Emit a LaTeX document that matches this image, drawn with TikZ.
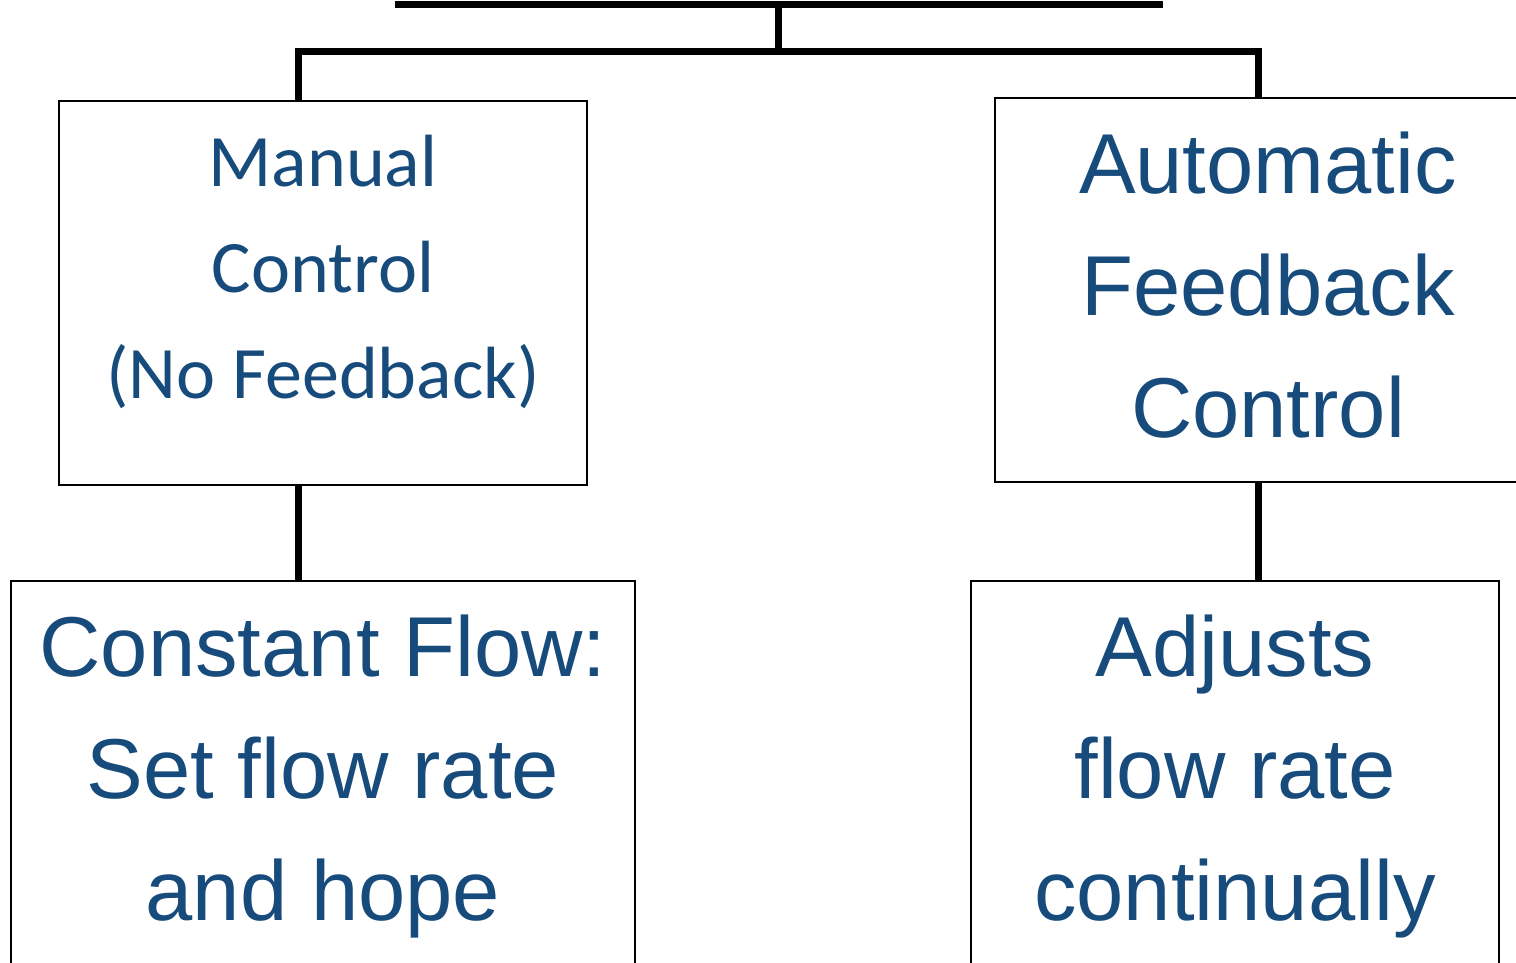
\documentclass[tikz,border=0pt]{standalone}
\usepackage{fontspec}
\setmainfont{Liberation Sans}
\newfontfamily\calfont{Carlito}
\definecolor{txtblue}{RGB}{23,75,124}
\begin{document}
\begin{tikzpicture}[x=1pt,y=-1pt,
  boxst/.style={draw=black, line width=2pt, inner sep=0pt, fill=none},
  conn/.style={draw=black, line width=7pt},
  arialtxt/.style={text=txtblue, font=\fontsize{85}{122}\selectfont, align=center, inner sep=0pt, anchor=base},
  calibtxt/.style={text=txtblue, font=\calfont\fontsize{74}{106}\selectfont, align=center, inner sep=0pt, anchor=base}]
\useasboundingbox (0,0) rectangle (1516,963);
\clip (0,0) rectangle (1516,963);
% boxes
\node[boxst, minimum width=528, minimum height=384] (b1) at (323,293) {};
\node[boxst, minimum width=546, minimum height=384] (b2) at (1268,290) {};
\node[boxst, minimum width=624, minimum height=419] (b3) at (323,790.5) {};
\node[boxst, minimum width=528, minimum height=419] (b4) at (1235,790.5) {};
% coordinates of the bus
\coordinate (tl) at (395,5);
\coordinate (tr) at (1163,5);
\coordinate (tm) at (778,5);
\coordinate (bm) at (778,52);
\coordinate (bl) at (298,52);
\coordinate (br) at (1258,52);
% connectors
\draw[conn] (tl) -- (tr);
\draw[conn] (tm) -- (bm);
\draw[conn, line join=miter] (b1.north -| bl) -- (bl) -- (br) -- (b2.north -| br);
\draw[conn] (b1.south -| bl) -- (b3.north -| bl);
\draw[conn] (b2.south -| br) -- (b4.north -| br);
% texts (base anchor = baseline of the last line)
\node[calibtxt] (t1) at (323,398) {Manual\\Control\\(No Feedback)};
\node[arialtxt] (t2) at (1268,437) {Automatic\\Feedback\\Control};
\node[arialtxt] (t3) at (323,920) {Constant Flow:\\Set flow rate\\and hope};
\node[arialtxt] (t4) at (1235,920) {Adjusts\\flow rate\\continually};
\end{tikzpicture}
\end{document}
